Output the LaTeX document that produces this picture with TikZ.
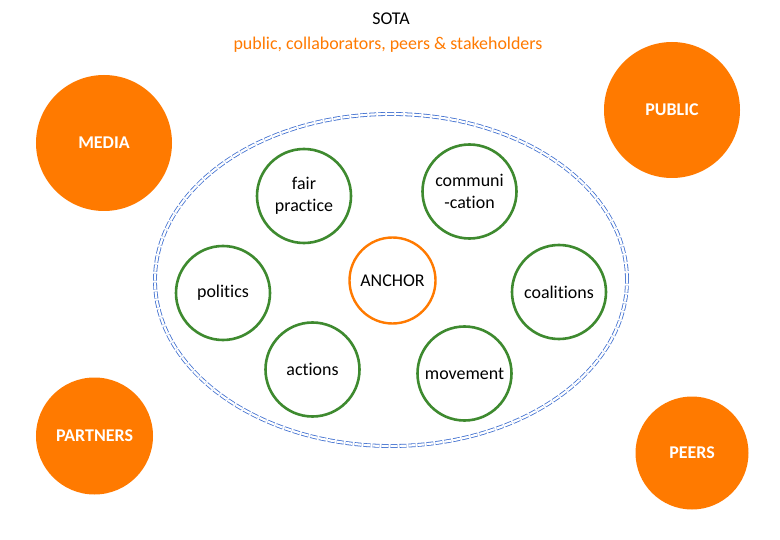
\documentclass[tikz,border=0pt]{standalone}
\usepackage{fontspec}
\setmainfont{Carlito}[Ligatures=NoCommon]
\usetikzlibrary{shapes.geometric}
\begin{document}
\begin{tikzpicture}[x=1bp,y=-1bp,
  txt/.style={font=\fontsize{18}{20}\selectfont},
  outer/.style={circle,fill=orng,draw=none,text=white,font=\fontsize{18}{20}\selectfont\bfseries,inner sep=0pt},
  inner/.style={circle,draw=grn,line width=2.6bp,font=\fontsize{18}{22}\selectfont,align=center,inner sep=0pt,minimum size=94bp},
]
\definecolor{orng}{HTML}{FF7A00}
\definecolor{grn}{HTML}{3E8A2F}
\definecolor{blu}{HTML}{3F6FD0}
\useasboundingbox (0,0) rectangle (780,540);
\fill[white] (0,0) rectangle (780,540);
\node[txt] (sota) at (391,19) {SOTA};
\node[txt,text=orng] (sub) at (388,45) {public, collaborators, peers \& stakeholders};
\node[draw=blu,double,double distance=2.2bp,line width=0.8bp,dash pattern=on 7bp off 2bp,ellipse,minimum width=472bp,minimum height=332bp,inner sep=0pt] (ell) at (391,280) {};
\node[outer,minimum size=136bp] (media) at (104,143) {MEDIA};
\node[outer,minimum size=136bp] (public) at (672,110) {PUBLIC};
\node[outer,minimum size=117bp] (partners) at (94.5,436) {PARTNERS};
\node[outer,minimum size=113bp] (peers) at (692,453) {PEERS};
\node[inner] (fair) at (304,196) {fair\\practice};
\node[inner] (comm) at (469.5,191.5) {communi\\-cation};
\node[inner] (pol) at (223,293) {politics};
\node[inner] (coal) at (559,292) {coalitions};
\node[inner] (act) at (312.5,369.5) {actions};
\node[inner] (mov) at (464.5,373.5) {movement};
\node[circle,draw=orng,line width=2.4bp,minimum size=86bp,inner sep=0pt,txt] (anchor) at (392.5,280.5) {ANCHOR};
\end{tikzpicture}
\end{document}
